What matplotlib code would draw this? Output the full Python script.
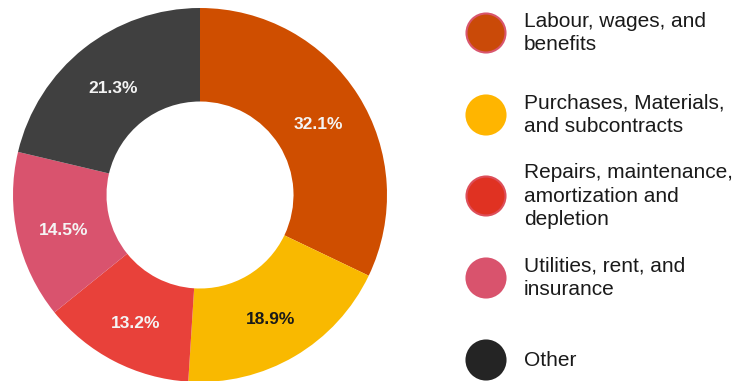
import matplotlib.pyplot as plt
from matplotlib.patches import Circle

# Cost breakdown data
categories = ['Labour, wages, and\nbenefits',
              'Purchases, Materials,\nand subcontracts',
              'Repairs, maintenance,\namortization and\ndepletion',
              'Utilities, rent, and\ninsurance',
              'Other']
shares = [32.1, 18.9, 13.2, 14.5, 21.3]
slice_colors = ['#CF4E00', '#F9B900', '#E8413A', '#D9536E', '#404040']
label_colors = ['#F4F4F4', '#1A1A1A', '#F4F4F4', '#F4F4F4', '#F4F4F4']
legend_colors = ['#CA4A08', '#FFB500', '#E03222', '#D9536D', '#242424']
legend_edges = ['#D9566E', '#FFB500', '#DD4F5A', '#D9536D', '#242424']

plt.rcParams['font.family'] = ['Liberation Sans', 'DejaVu Sans']

fig = plt.figure(figsize=(7.39, 3.81), dpi=100)
ax = fig.add_axes([0, 0, 1, 1])

# donut, in pixel-like coordinates
cx, cy, r = 200, 186, 187
wedges, texts, autotexts = ax.pie(
    shares, colors=slice_colors, startangle=90, counterclock=False,
    center=(cx, cy), radius=r,
    wedgeprops=dict(width=r * 0.5, linewidth=0),
    autopct='%.1f%%', pctdistance=0.75,
    textprops=dict(fontsize=12.5, fontweight='bold'))
for t, c in zip(autotexts, label_colors):
    t.set_color(c)
    x, y = t.get_position()
    t.set_position((x, y - 4))  # sit the labels a touch lower

# legend drawn by hand: circle marker + wrapped label
legend_y = [348, 266, 185, 103, 21]
for lbl, fc, ec, y in zip(categories, legend_colors, legend_edges, legend_y):
    ax.add_patch(Circle((486, y), 19.5, facecolor=fc, edgecolor=ec, linewidth=1.5))
    ax.text(524, y, lbl, ha='left', va='center', fontsize=15,
            color='#1A1A1A', linespacing=1.32)

ax.set_xlim(0, 739)
ax.set_ylim(0, 381)
ax.set_aspect('equal')
ax.axis('off')

fig.savefig('out.png', dpi=100)
